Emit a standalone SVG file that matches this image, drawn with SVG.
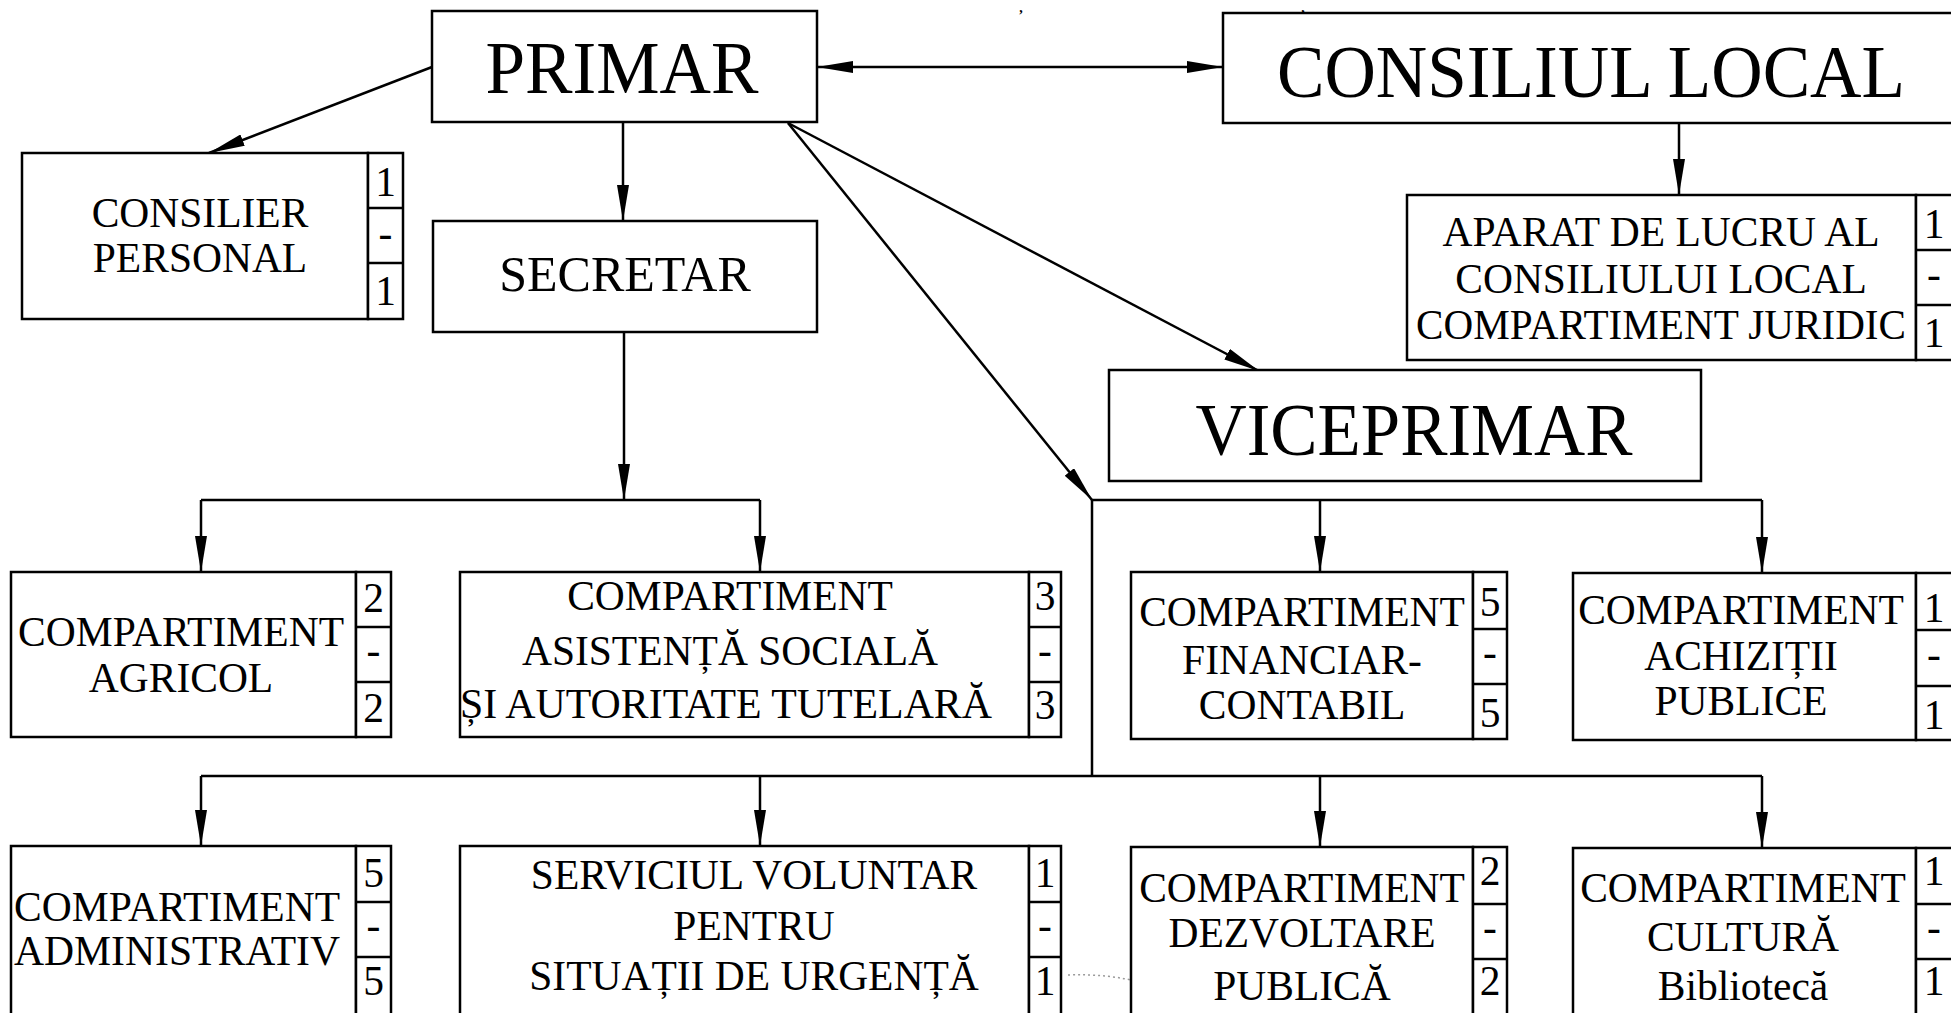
<svg xmlns="http://www.w3.org/2000/svg" width="1951" height="1013" viewBox="0 0 1951 1013">
<style>
.box{fill:#fff;stroke:#000;stroke-width:2.5}
.dv{stroke:#000;stroke-width:2.5}
.t{font-family:"Liberation Serif","Times New Roman",serif;font-size:41.5px;text-anchor:middle;fill:#000}
.big{font-size:74px}
.mid{font-size:50px}
.c{stroke:#000;stroke-width:2.5;fill:none}
</style>
<defs>
<marker id="ah" markerUnits="userSpaceOnUse" markerWidth="36" markerHeight="12" refX="36" refY="6" orient="auto-start-reverse" viewBox="0 0 36 12">
<path d="M0,0 L36,6 L0,12 Z" fill="#000"/>
</marker>
</defs>
<rect width="1951" height="1013" fill="#fff"/>

<g id="top-fragments">
<text class="t" x="1021" y="12" style="font-size:14px;font-weight:bold">,</text>
<text class="t" x="1303" y="12" style="font-size:14px;font-weight:bold">,</text>
<path d="M1068,975 Q1150,972 1206,1013" fill="none" stroke="#9a9a9a" stroke-width="1.5" stroke-dasharray="2 3"/>
</g>

<g id="connectors">
<line class="c" x1="817" y1="67" x2="1223" y2="67" marker-start="url(#ah)" marker-end="url(#ah)"/>
<line class="c" x1="432" y1="67" x2="209" y2="153" marker-end="url(#ah)"/>
<line class="c" x1="623" y1="122" x2="623" y2="221" marker-end="url(#ah)"/>
<line class="c" x1="788" y1="123" x2="1259" y2="371" marker-end="url(#ah)"/>
<line class="c" x1="788" y1="123" x2="1092" y2="500" marker-end="url(#ah)"/>
<line class="c" x1="1679" y1="123" x2="1679" y2="195" marker-end="url(#ah)"/>
<line class="c" x1="624" y1="332" x2="624" y2="500" marker-end="url(#ah)"/>
<polyline class="c" points="201,500 760,500"/>
<line class="c" x1="201" y1="500" x2="201" y2="572" marker-end="url(#ah)"/>
<line class="c" x1="760" y1="500" x2="760" y2="572" marker-end="url(#ah)"/>
<polyline class="c" points="1092,776 1092,500 1762,500"/>
<line class="c" x1="1320" y1="500" x2="1320" y2="572" marker-end="url(#ah)"/>
<line class="c" x1="1762" y1="500" x2="1762" y2="573" marker-end="url(#ah)"/>
<polyline class="c" points="201,776 1762,776"/>
<line class="c" x1="201" y1="776" x2="201" y2="846" marker-end="url(#ah)"/>
<line class="c" x1="760" y1="776" x2="760" y2="846" marker-end="url(#ah)"/>
<line class="c" x1="1320" y1="776" x2="1320" y2="847" marker-end="url(#ah)"/>
<line class="c" x1="1762" y1="776" x2="1762" y2="848" marker-end="url(#ah)"/>
</g>

<g id="primar">
<rect class="box" x="432" y="11" width="385" height="111"/>
<text class="t big" x="622" y="93" textLength="273" lengthAdjust="spacingAndGlyphs">PRIMAR</text>
</g>

<g id="consiliul-local">
<rect class="box" x="1223" y="13" width="760" height="110"/>
<text class="t big" x="1591" y="97" textLength="628" lengthAdjust="spacingAndGlyphs">CONSILIUL LOCAL</text>
</g>

<g id="consilier-personal">
<rect class="box" x="22" y="153" width="346" height="166"/>
<rect class="box" x="368" y="153" width="35" height="166"/>
<line class="dv" x1="368" y1="208" x2="403" y2="208"/>
<line class="dv" x1="368" y1="263" x2="403" y2="263"/>
<text class="t" x="200" y="227">CONSILIER</text>
<text class="t" x="200" y="272">PERSONAL</text>
<text class="t" x="385.5" y="196">1</text>
<text class="t" x="385.5" y="247">-</text>
<text class="t" x="385.5" y="305">1</text>
</g>

<g id="secretar">
<rect class="box" x="433" y="221" width="384" height="111"/>
<text class="t mid" x="625" y="291">SECRETAR</text>
</g>

<g id="aparat">
<rect class="box" x="1407" y="195" width="509" height="165"/>
<rect class="box" x="1916" y="195" width="45" height="165"/>
<line class="dv" x1="1916" y1="250" x2="1961" y2="250"/>
<line class="dv" x1="1916" y1="305" x2="1961" y2="305"/>
<text class="t" x="1661" y="246">APARAT DE LUCRU AL</text>
<text class="t" x="1661" y="293">CONSILIULUI LOCAL</text>
<text class="t" x="1661" y="339" textLength="490" lengthAdjust="spacingAndGlyphs">COMPARTIMENT JURIDIC</text>
<text class="t" x="1934" y="238">1</text>
<text class="t" x="1934" y="288">-</text>
<text class="t" x="1934" y="347">1</text>
</g>

<g id="viceprimar">
<rect class="box" x="1109" y="370" width="592" height="111"/>
<text class="t big" x="1414" y="455" textLength="437" lengthAdjust="spacingAndGlyphs">VICEPRIMAR</text>
</g>

<g id="agricol">
<rect class="box" x="11" y="572" width="345" height="165"/>
<rect class="box" x="356" y="572" width="35" height="165"/>
<line class="dv" x1="356" y1="627" x2="391" y2="627"/>
<line class="dv" x1="356" y1="682" x2="391" y2="682"/>
<text class="t" x="181" y="646" textLength="326" lengthAdjust="spacingAndGlyphs">COMPARTIMENT</text>
<text class="t" x="181" y="692">AGRICOL</text>
<text class="t" x="373.5" y="612">2</text>
<text class="t" x="373.5" y="664">-</text>
<text class="t" x="373.5" y="722">2</text>
</g>

<g id="asistenta">
<rect class="box" x="460" y="572" width="569" height="165"/>
<rect class="box" x="1029" y="572" width="32" height="165"/>
<line class="dv" x1="1029" y1="627" x2="1061" y2="627"/>
<line class="dv" x1="1029" y1="682" x2="1061" y2="682"/>
<text class="t" x="730" y="610">COMPARTIMENT</text>
<text class="t" x="730" y="665">ASISTENȚĂ SOCIALĂ</text>
<text class="t" x="726" y="718" textLength="532" lengthAdjust="spacingAndGlyphs">ȘI AUTORITATE TUTELARĂ</text>
<text class="t" x="1045" y="610">3</text>
<text class="t" x="1045" y="664">-</text>
<text class="t" x="1045" y="719">3</text>
</g>

<g id="financiar">
<rect class="box" x="1131" y="572" width="342" height="167"/>
<rect class="box" x="1473" y="572" width="34" height="167"/>
<line class="dv" x1="1473" y1="629" x2="1507" y2="629"/>
<line class="dv" x1="1473" y1="684" x2="1507" y2="684"/>
<text class="t" x="1302" y="626">COMPARTIMENT</text>
<text class="t" x="1302" y="674">FINANCIAR-</text>
<text class="t" x="1302" y="719">CONTABIL</text>
<text class="t" x="1490" y="616">5</text>
<text class="t" x="1490" y="666">-</text>
<text class="t" x="1490" y="727">5</text>
</g>

<g id="achizitii">
<rect class="box" x="1573" y="573" width="343" height="167"/>
<rect class="box" x="1916" y="573" width="45" height="167"/>
<line class="dv" x1="1916" y1="630" x2="1961" y2="630"/>
<line class="dv" x1="1916" y1="686" x2="1961" y2="686"/>
<text class="t" x="1741" y="624">COMPARTIMENT</text>
<text class="t" x="1741" y="670">ACHIZIȚII</text>
<text class="t" x="1741" y="715">PUBLICE</text>
<text class="t" x="1934" y="622">1</text>
<text class="t" x="1934" y="668">-</text>
<text class="t" x="1934" y="729">1</text>
</g>

<g id="administrativ">
<rect class="box" x="11" y="846" width="345" height="172"/>
<rect class="box" x="356" y="846" width="35" height="172"/>
<line class="dv" x1="356" y1="902" x2="391" y2="902"/>
<line class="dv" x1="356" y1="957" x2="391" y2="957"/>
<text class="t" x="177" y="921" textLength="326" lengthAdjust="spacingAndGlyphs">COMPARTIMENT</text>
<text class="t" x="177" y="965" textLength="326" lengthAdjust="spacingAndGlyphs">ADMINISTRATIV</text>
<text class="t" x="373.5" y="887">5</text>
<text class="t" x="373.5" y="939">-</text>
<text class="t" x="373.5" y="995">5</text>
</g>

<g id="serviciul">
<rect class="box" x="460" y="846" width="569" height="172"/>
<rect class="box" x="1029" y="846" width="32" height="172"/>
<line class="dv" x1="1029" y1="902" x2="1061" y2="902"/>
<line class="dv" x1="1029" y1="957" x2="1061" y2="957"/>
<text class="t" x="754" y="889">SERVICIUL VOLUNTAR</text>
<text class="t" x="754" y="940">PENTRU</text>
<text class="t" x="754" y="990">SITUAȚII DE URGENȚĂ</text>
<text class="t" x="1045" y="887">1</text>
<text class="t" x="1045" y="939">-</text>
<text class="t" x="1045" y="995">1</text>
</g>

<g id="dezvoltare">
<rect class="box" x="1131" y="847" width="342" height="172"/>
<rect class="box" x="1473" y="847" width="34" height="172"/>
<line class="dv" x1="1473" y1="904" x2="1507" y2="904"/>
<line class="dv" x1="1473" y1="959" x2="1507" y2="959"/>
<text class="t" x="1302" y="902">COMPARTIMENT</text>
<text class="t" x="1302" y="947">DEZVOLTARE</text>
<text class="t" x="1302" y="1000">PUBLICĂ</text>
<text class="t" x="1490" y="885">2</text>
<text class="t" x="1490" y="941">-</text>
<text class="t" x="1490" y="995">2</text>
</g>

<g id="cultura">
<rect class="box" x="1573" y="848" width="343" height="172"/>
<rect class="box" x="1916" y="848" width="45" height="172"/>
<line class="dv" x1="1916" y1="904" x2="1961" y2="904"/>
<line class="dv" x1="1916" y1="959" x2="1961" y2="959"/>
<text class="t" x="1743" y="902">COMPARTIMENT</text>
<text class="t" x="1743" y="951">CULTURĂ</text>
<text class="t" x="1743" y="1000">Bibliotecă</text>
<text class="t" x="1934" y="885">1</text>
<text class="t" x="1934" y="941">-</text>
<text class="t" x="1934" y="995">1</text>
</g>
</svg>
